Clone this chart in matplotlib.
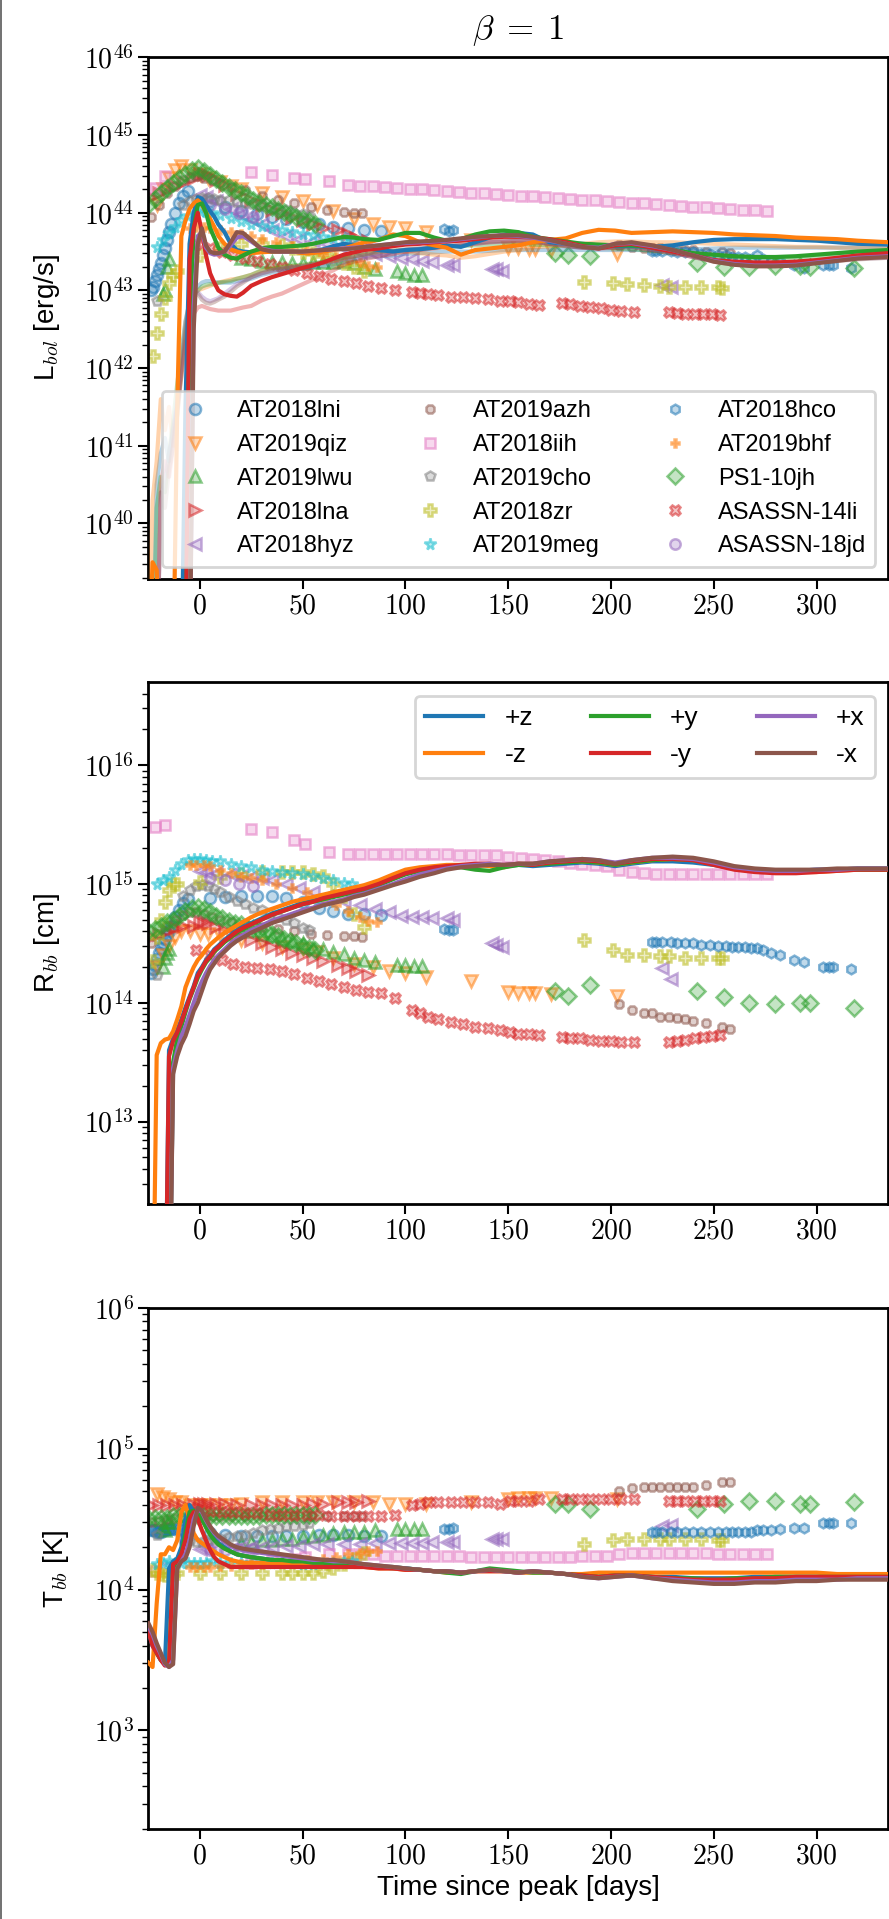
import numpy as np
import matplotlib
matplotlib.use("Agg")
import matplotlib.pyplot as plt
from matplotlib.colors import to_rgba
from matplotlib.lines import Line2D
from matplotlib.ticker import FuncFormatter, LogLocator, MultipleLocator, NullFormatter

plt.rcParams["font.family"] = ["Liberation Sans", "DejaVu Sans"]
plt.rcParams["mathtext.fontset"] = "cm"

# ---- observed TDEs: time since peak [d], log10 L [erg/s], log10 R [cm], log10 T [K]
lni_t = [-24, -23, -22, -21, -20, -19, -18, -17, -16, -15, -14, -12, -10, -8, -6, 5, 12, 20, 28, 35, 42, 50, 58, 65, 72, 80, 88]
lni_L = [43.0, 43.05, 43.12, 43.2, 43.28, 43.35, 43.45, 43.55, 43.65, 43.75, 43.85, 44.0, 44.12, 44.22, 44.28, 44.15, 44.08, 44.02, 43.98, 43.95, 43.92, 43.88, 43.85, 43.82, 43.8, 43.78, 43.76]
lni_R = [14.25, 14.28, 14.32, 14.37, 14.42, 14.46, 14.5, 14.54, 14.57, 14.6, 14.65, 14.72, 14.78, 14.84, 14.87, 14.88, 14.89, 14.9, 14.9, 14.9, 14.88, 14.85, 14.8, 14.77, 14.75, 14.75, 14.74]
lni_T = [4.42, 4.42, 4.42, 4.41, 4.41, 4.41, 4.42, 4.42, 4.43, 4.43, 4.43, 4.43, 4.43, 4.42, 4.42, 4.4, 4.39, 4.38, 4.38, 4.38, 4.38, 4.38, 4.39, 4.39, 4.39, 4.38, 4.38]

qiz_t = [-21, -18, -15, -12, -9, -5, 0, 4, 10, 15, 20, 30, 40, 50, 57, 65, 75, 84, 92, 100, 110, 132, 150, 155, 160, 163, 171, 203]
qiz_L = [44.1, 44.3, 44.45, 44.55, 44.6, 44.55, 44.5, 44.45, 44.4, 44.35, 44.3, 44.25, 44.2, 44.15, 44.1, 44.02, 43.92, 43.85, 43.82, 43.8, 43.75, 43.65, 43.55, 43.55, 43.53, 43.53, 43.52, 43.47]
qiz_R = [14.3, 14.4, 14.48, 14.55, 14.6, 14.6, 14.58, 14.58, 14.57, 14.55, 14.53, 14.5, 14.47, 14.45, 14.43, 14.38, 14.33, 14.3, 14.27, 14.25, 14.22, 14.18, 14.09, 14.08, 14.08, 14.08, 14.07, 14.06]
qiz_T = [4.68, 4.66, 4.64, 4.62, 4.62, 4.6, 4.6, 4.6, 4.6, 4.6, 4.61, 4.62, 4.62, 4.62, 4.62, 4.62, 4.62, 4.62, 4.61, 4.61, 4.61, 4.62, 4.64, 4.65, 4.65, 4.65, 4.65, 4.64]

lwu_t = [-18, -17, -16, -15, 20, 25, 30, 35, 40, 45, 50, 55, 60, 65, 70, 75, 80, 85, 96, 100, 104, 108]
lwu_L = [42.95, 43.0, 43.3, 43.4, 43.42, 43.4, 43.38, 43.37, 43.36, 43.35, 43.35, 43.36, 43.37, 43.37, 43.38, 43.35, 43.3, 43.28, 43.25, 43.22, 43.2, 43.2]
lwu_R = [14.3, 14.38, 14.42, 14.45, 14.62, 14.6, 14.58, 14.56, 14.54, 14.52, 14.5, 14.47, 14.45, 14.43, 14.41, 14.38, 14.36, 14.34, 14.32, 14.32, 14.31, 14.31]
lwu_T = [4.45, 4.42, 4.48, 4.48, 4.33, 4.34, 4.35, 4.35, 4.36, 4.36, 4.37, 4.38, 4.39, 4.4, 4.41, 4.41, 4.41, 4.42, 4.43, 4.43, 4.43, 4.43]

lna_t = [-24, -20, -16, -12, -8, -3, 0, 2, 4, 8, 12, 18, 25, 30, 35, 40, 45, 50, 55, 60, 67, 72, 76, 82]
lna_L = [44.2, 44.25, 44.3, 44.35, 44.4, 44.45, 44.5, 44.5, 44.48, 44.42, 44.36, 44.24, 44.16, 44.1, 44.04, 44.0, 43.94, 43.9, 43.86, 43.8, 43.78, 43.72, 43.68, 43.63]
lna_R = [14.55, 14.58, 14.6, 14.63, 14.65, 14.65, 14.68, 14.68, 14.67, 14.64, 14.61, 14.57, 14.53, 14.5, 14.47, 14.45, 14.42, 14.4, 14.38, 14.35, 14.32, 14.29, 14.27, 14.23]
lna_T = [4.6, 4.6, 4.6, 4.6, 4.6, 4.6, 4.61, 4.61, 4.61, 4.61, 4.61, 4.6, 4.6, 4.6, 4.6, 4.6, 4.6, 4.6, 4.61, 4.61, 4.62, 4.62, 4.62, 4.63]

hyz_t = [0, 3, 8, 15, 20, 25, 30, 35, 42, 48, 55, 62, 70, 78, 85, 92, 98, 103, 108, 113, 120, 123, 142, 144, 147, 225, 229]
hyz_L = [44.23, 44.2, 44.15, 44.05, 43.98, 43.92, 43.85, 43.78, 43.7, 43.66, 43.63, 43.6, 43.55, 43.5, 43.47, 43.44, 43.42, 43.4, 43.38, 43.36, 43.33, 43.33, 43.28, 43.27, 43.25, 43.07, 43.05]
hyz_R = [15.11, 15.1, 15.09, 15.08, 15.07, 15.06, 15.05, 15.03, 15.0, 14.97, 14.93, 14.9, 14.86, 14.82, 14.79, 14.76, 14.73, 14.72, 14.72, 14.71, 14.71, 14.7, 14.5, 14.49, 14.47, 14.29, 14.2]
hyz_T = [4.29, 4.29, 4.29, 4.29, 4.3, 4.3, 4.3, 4.3, 4.31, 4.31, 4.32, 4.32, 4.32, 4.32, 4.33, 4.33, 4.33, 4.33, 4.33, 4.34, 4.34, 4.34, 4.36, 4.36, 4.36, 4.45, 4.46]

azh_t = [-24, -20, -16, -12, -8, -5, -2, 2, 6, 10, 15, 22, 30, 38, 46, 54, 62, 70, 75, 79, 204, 210, 216, 220, 224, 228, 232, 236, 240, 246, 254, 258]
azh_L = [43.95, 44.1, 44.25, 44.35, 44.42, 44.46, 44.47, 44.45, 44.42, 44.38, 44.33, 44.29, 44.22, 44.16, 44.12, 44.08, 44.04, 44.01, 44.0, 44.0,
         43.58, 43.56, 43.55, 43.55, 43.54, 43.53, 43.53, 43.52, 43.52, 43.5, 43.49, 43.48]
azh_R = [14.5, 14.58, 14.65, 14.7, 14.74, 14.76, 14.76, 14.75, 14.72, 14.7, 14.68, 14.66, 14.64, 14.62, 14.6, 14.58, 14.57, 14.56, 14.56, 14.55,
         13.99, 13.94, 13.91, 13.91, 13.88, 13.88, 13.87, 13.86, 13.85, 13.83, 13.8, 13.78]
azh_T = [4.48, 4.49, 4.5, 4.51, 4.51, 4.52, 4.52, 4.52, 4.52, 4.52, 4.52, 4.52, 4.52, 4.52, 4.52, 4.52, 4.52, 4.52, 4.52, 4.52,
         4.70, 4.72, 4.73, 4.73, 4.73, 4.73, 4.73, 4.73, 4.73, 4.74, 4.76, 4.76]

iih_t = [-22, -17, 25, 35, 46, 51, 63, 72, 78, 84, 90, 96, 102, 108, 114, 120, 126, 132, 138, 144, 150,
         156, 162, 168, 174, 180, 186, 192, 198, 204, 210, 216, 222, 228, 234, 240, 246, 252, 258, 264, 270, 276]
iih_L = [44.32, 44.47, 44.52, 44.49, 44.45, 44.43, 44.41, 44.36, 44.35, 44.34, 44.33, 44.32, 44.31, 44.3, 44.29,
         44.28, 44.27, 44.26, 44.25, 44.24, 44.23, 44.22, 44.21, 44.2, 44.19, 44.18, 44.17, 44.16, 44.15, 44.14,
         44.13, 44.12, 44.11, 44.1, 44.09, 44.08, 44.07, 44.06, 44.05, 44.04, 44.03, 44.02]
iih_R = [15.48, 15.5, 15.46, 15.44, 15.37, 15.34, 15.27, 15.25, 15.25, 15.25, 15.25, 15.25, 15.25, 15.25, 15.25,
         15.25, 15.24, 15.24, 15.24, 15.24, 15.23, 15.22, 15.21, 15.2, 15.19, 15.18, 15.17, 15.16, 15.15, 15.12,
         15.1, 15.09, 15.08, 15.08, 15.08, 15.08, 15.08, 15.08, 15.08, 15.08, 15.08, 15.08]
iih_T = [4.13, 4.15, 4.19, 4.2, 4.22, 4.23, 4.25, 4.25, 4.25, 4.25, 4.24, 4.24, 4.24, 4.24, 4.24,
         4.24, 4.24, 4.23, 4.23, 4.23, 4.23, 4.23, 4.23, 4.23, 4.23, 4.23, 4.24, 4.24, 4.24, 4.25,
         4.26, 4.26, 4.26, 4.26, 4.26, 4.26, 4.26, 4.25, 4.25, 4.25, 4.25, 4.25]

cho_t = [-21, -8, -5, -2, 1, 4, 7, 10, 14, 18, 22, 26, 30, 34, 38, 42, 46, 50, 53]
cho_L = [42.87, 44.1, 44.15, 44.18, 44.19, 44.19, 44.18, 44.17, 44.16, 44.14, 44.13, 44.11, 44.09, 44.07, 44.05, 44.03, 44.0, 43.98, 43.96]
cho_R = [14.23, 14.9, 14.95, 14.98, 14.99, 14.98, 14.96, 14.93, 14.89, 14.86, 14.83, 14.8, 14.78, 14.75, 14.72, 14.7, 14.67, 14.63, 14.61]
cho_T = [4.39, 4.36, 4.35, 4.34, 4.34, 4.35, 4.35, 4.36, 4.37, 4.38, 4.39, 4.4, 4.42, 4.43, 4.44, 4.45, 4.45, 4.46, 4.47]

zr_t = [-23, -21, -19, -17, -15, -13, -11, 0, 10, 20, 30, 40, 45, 50, 55, 60, 65, 70, 75, 80,
        187, 201, 208, 216, 224, 228, 236, 244, 252, 254]
zr_L = [42.16, 42.45, 42.7, 42.9, 43.1, 43.2, 43.25, 43.45, 43.55, 43.6, 43.6, 43.58, 43.55, 43.5, 43.48, 43.45, 43.4, 43.35, 43.3, 43.25,
        43.11, 43.1, 43.08, 43.07, 43.06, 43.05, 43.05, 43.04, 43.04, 43.03]
zr_R = [14.35, 14.55, 14.7, 14.85, 14.95, 15.0, 15.0, 15.02, 15.06, 15.08, 15.1, 15.1, 15.1, 15.1, 15.08, 15.07, 15.0, 14.9, 14.75, 14.64,
        14.53, 14.44, 14.4, 14.4, 14.39, 14.39, 14.38, 14.38, 14.38, 14.38]
zr_T = [4.14, 4.12, 4.11, 4.1, 4.1, 4.11, 4.12, 4.12, 4.12, 4.12, 4.12, 4.12, 4.12, 4.12, 4.12, 4.13, 4.15, 4.18, 4.22, 4.26,
        4.32, 4.35, 4.36, 4.36, 4.36, 4.36, 4.36, 4.36, 4.35, 4.35]

meg_t = [-21, -18, -15, -12, -9, -6, -3, 0, 3, 6, 10, 15, 20, 25, 30, 35, 40, 45, 50, 55, 60, 65, 70, 74]
meg_L = [43.56, 43.65, 43.74, 43.82, 43.9, 43.96, 44.0, 44.02, 44.01, 44.0, 43.97, 43.93, 43.89, 43.86, 43.83, 43.8, 43.78, 43.75, 43.73, 43.71, 43.69, 43.67, 43.65, 43.63]
meg_R = [15.0, 15.03, 15.06, 15.12, 15.17, 15.2, 15.21, 15.21, 15.2, 15.19, 15.19, 15.17, 15.15, 15.14, 15.12, 15.11, 15.1, 15.09, 15.08, 15.07, 15.05, 15.03, 15.01, 15.0]
meg_T = [4.18, 4.19, 4.2, 4.19, 4.19, 4.19, 4.19, 4.19, 4.19, 4.2, 4.19, 4.19, 4.19, 4.19, 4.19, 4.19, 4.19, 4.19, 4.18, 4.18, 4.19, 4.19, 4.2, 4.2]

hco_t = [119, 121, 123, 220, 222, 225, 229, 232, 236, 240, 244, 248, 252, 256, 259, 262, 265, 268, 271, 274, 278, 282, 289, 294, 303, 306, 308, 317]
hco_L = [43.79, 43.77, 43.78, 43.51, 43.51, 43.51, 43.51, 43.49, 43.49, 43.49, 43.47, 43.47, 43.45, 43.45, 43.43, 43.43, 43.43, 43.41, 43.45, 43.41, 43.37, 43.37, 43.33, 43.29, 43.33, 43.33, 43.33, 43.29]
hco_R = [14.62, 14.61, 14.61, 14.51, 14.51, 14.51, 14.51, 14.5, 14.5, 14.5, 14.49, 14.49, 14.48, 14.48, 14.47, 14.47, 14.47, 14.46, 14.46, 14.44, 14.42, 14.4, 14.36, 14.34, 14.3, 14.3, 14.3, 14.28]
hco_T = [4.43, 4.43, 4.44, 4.41, 4.41, 4.41, 4.41, 4.41, 4.41, 4.41, 4.41, 4.41, 4.41, 4.41, 4.41, 4.41, 4.41, 4.41, 4.42, 4.42, 4.42, 4.43, 4.44, 4.44, 4.47, 4.47, 4.47, 4.47]

bhf_t = [-5, -2, 2, 5, 10, 15, 20, 25, 30, 37, 45, 52, 60, 66, 72, 78, 82, 86]
bhf_L = [43.8, 43.82, 43.82, 43.8, 43.78, 43.75, 43.72, 43.7, 43.66, 43.62, 43.57, 43.52, 43.47, 43.43, 43.4, 43.36, 43.32, 43.3]
bhf_R = [15.16, 15.16, 15.16, 15.15, 15.12, 15.09, 15.06, 15.05, 15.03, 15.0, 14.97, 14.93, 14.87, 14.82, 14.77, 14.72, 14.69, 14.68]
bhf_T = [4.16, 4.16, 4.16, 4.16, 4.17, 4.17, 4.18, 4.18, 4.18, 4.19, 4.2, 4.21, 4.22, 4.23, 4.25, 4.26, 4.27, 4.27]

ps1_t = [-25, -22, -19, -16, -13, -10, -7, -4, -1, 2, 5, 8, 11, 14, 17, 20, 23, 26, 29, 32, 35, 38, 41, 44, 47, 50, 53, 56,
         173, 179, 190, 242, 255, 267, 280, 292, 297, 318]
ps1_L = [44.1, 44.18, 44.25, 44.32, 44.38, 44.45, 44.5, 44.55, 44.57, 44.54, 44.48, 44.43, 44.38, 44.33, 44.29, 44.25, 44.21, 44.17, 44.13, 44.1,
         44.07, 44.04, 44.01, 43.98, 43.95, 43.92, 43.89, 43.86,
         43.48, 43.46, 43.44, 43.35, 43.3, 43.3, 43.31, 43.31, 43.3, 43.29]
ps1_R = [14.6, 14.62, 14.65, 14.68, 14.7, 14.73, 14.77, 14.8, 14.81, 14.79, 14.76, 14.73, 14.71, 14.69, 14.67, 14.66, 14.64, 14.63, 14.61, 14.6,
         14.58, 14.56, 14.54, 14.52, 14.5, 14.48, 14.46, 14.44,
         14.1, 14.06, 14.15, 14.1, 14.05, 14.0, 13.99, 14.0, 14.0, 13.96]
ps1_T = [4.51, 4.51, 4.51, 4.51, 4.52, 4.52, 4.52, 4.52, 4.52, 4.52, 4.52, 4.52, 4.52, 4.52, 4.52, 4.52, 4.52, 4.52, 4.52, 4.53,
         4.53, 4.53, 4.53, 4.53, 4.53, 4.53, 4.53, 4.53,
         4.61, 4.61, 4.57, 4.57, 4.61, 4.63, 4.63, 4.61, 4.61, 4.62]

li_t = [-2, 5, 11, 16, 22, 28, 34, 40, 46, 52, 58, 64, 70, 76, 82, 88, 95, 103, 107, 111, 116, 122, 128, 134, 140,
        146, 151, 155, 160, 165, 176, 180, 185, 190, 195, 200, 205, 211, 228, 232, 236, 241, 245, 249, 253]
li_L = [43.6, 43.55, 43.5, 43.46, 43.42, 43.38, 43.34, 43.3, 43.26, 43.22, 43.19, 43.15, 43.12, 43.09, 43.06,
        43.03, 43.0, 42.98, 42.97, 42.95, 42.94, 42.92, 42.91, 42.9, 42.89, 42.87, 42.87, 42.85, 42.83, 42.81,
        42.84, 42.82, 42.8, 42.78, 42.77, 42.75, 42.74, 42.72, 42.72, 42.71, 42.7, 42.7, 42.69, 42.69, 42.68]
li_R = [14.44, 14.4, 14.36, 14.33, 14.3, 14.29, 14.28, 14.27, 14.24, 14.21, 14.18, 14.16, 14.13, 14.11, 14.09,
        14.08, 14.04, 13.94, 13.91, 13.88, 13.86, 13.84, 13.82, 13.8, 13.79, 13.77, 13.75, 13.74, 13.74, 13.73,
        13.71, 13.7, 13.7, 13.69, 13.68, 13.68, 13.67, 13.67, 13.67, 13.68, 13.69, 13.7, 13.71, 13.72, 13.73]
li_T = [4.58, 4.56, 4.55, 4.55, 4.54, 4.54, 4.53, 4.53, 4.53, 4.53, 4.53, 4.52, 4.52, 4.52, 4.52,
        4.52, 4.53, 4.6, 4.61, 4.62, 4.62, 4.62, 4.62, 4.62, 4.62, 4.61, 4.63, 4.63, 4.63, 4.64,
        4.64, 4.64, 4.64, 4.64, 4.64, 4.64, 4.64, 4.64, 4.63, 4.63, 4.63, 4.63, 4.63, 4.63, 4.63]

jd_t = [5, 12, 19, 26]
jd_L = [44.1, 44.05, 44.0, 43.95]
jd_R = [15.05, 15.03, 15.0, 14.98]
jd_T = [4.28, 4.28, 4.29, 4.29]

# ---- simulated viewing directions (log10 values; values far below the axes are off-scale)
sim_t = [-25, -23, -21, -19, -17, -15, -13, -11,
         -9, -7, -5, -3, -1, 1, 3, 5,
         7, 9, 12, 15, 18, 21, 25, 30,
         35, 40, 45, 50, 55, 60, 65, 70,
         75, 80, 87, 94, 100, 107, 114, 120,
         127, 134, 141, 148, 155, 162, 170, 178,
         186, 194, 202, 210, 220, 230, 240, 250,
         260, 270, 280, 290, 300, 310, 320, 335]
sim_labels = ["+z", "-z", "+y", "-y", "+x", "-x"]

L_pz = [38, 38, 38, 38, 38, 38, 38, 38,
        38, 41.5, 43.6, 44.0, 44.2, 44.18, 44.1, 44.02,
        43.95, 43.85, 43.75, 43.6, 43.52, 43.5, 43.49, 43.5,
        43.5, 43.5, 43.5, 43.49, 43.5, 43.53, 43.57, 43.6,
        43.58, 43.55, 43.52, 43.5, 43.52, 43.53, 43.55, 43.58,
        43.56, 43.62, 43.68, 43.72, 43.74, 43.72, 43.62, 43.6,
        43.6, 43.58, 43.57, 43.57, 43.56, 43.58, 43.62, 43.65,
        43.66, 43.66, 43.66, 43.65, 43.64, 43.62, 43.6, 43.59]
L_mz = [38, 39.5, 39.4, 38, 38, 38, 38, 41.5,
        43.7, 43.9, 44.05, 44.12, 44.16, 44.1, 44.0, 43.92,
        43.82, 43.7, 43.6, 43.53, 43.5, 43.48, 43.48, 43.49,
        43.5, 43.5, 43.5, 43.48, 43.48, 43.5, 43.52, 43.54,
        43.58, 43.62, 43.65, 43.72, 43.7, 43.62, 43.58, 43.55,
        43.46, 43.52, 43.54, 43.56, 43.58, 43.62, 43.65, 43.67,
        43.74, 43.78, 43.77, 43.74, 43.75, 43.76, 43.75, 43.74,
        43.72, 43.71, 43.7, 43.68, 43.67, 43.66, 43.64, 43.62]
L_py = [38, 38, 38, 38, 38, 38, 38, 38,
        38, 38, 42.5, 43.8, 44.1, 44.12, 44.0, 43.8,
        43.68, 43.55, 43.46, 43.42, 43.41, 43.45, 43.5, 43.54,
        43.56, 43.56, 43.57, 43.58, 43.6, 43.63, 43.66, 43.69,
        43.68, 43.66, 43.65, 43.7, 43.74, 43.74, 43.68, 43.64,
        43.66, 43.72, 43.76, 43.77, 43.75, 43.69, 43.66, 43.63,
        43.6, 43.59, 43.58, 43.58, 43.56, 43.52, 43.48, 43.46,
        43.44, 43.43, 43.43, 43.44, 43.46, 43.48, 43.5, 43.52]
L_my = [38, 38, 38, 38, 38, 38, 38, 38,
        38, 38, 43.4, 43.8, 44.0, 43.75, 43.45, 43.22,
        43.1, 43.0, 42.95, 42.93, 42.92, 42.97, 43.06, 43.12,
        43.17, 43.21, 43.25, 43.29, 43.32, 43.36, 43.41, 43.46,
        43.49, 43.52, 43.54, 43.57, 43.59, 43.6, 43.62, 43.63,
        43.64, 43.66, 43.68, 43.69, 43.69, 43.68, 43.66, 43.62,
        43.57, 43.54, 43.58, 43.6, 43.55, 43.5, 43.45, 43.39,
        43.37, 43.36, 43.36, 43.37, 43.39, 43.42, 43.45, 43.48]
L_px = [38, 38, 38, 38, 38, 38, 38, 38,
        38, 38, 38, 42.8, 43.7, 43.75, 43.55, 43.48,
        43.46, 43.47, 43.5, 43.58, 43.68, 43.7, 43.63, 43.54,
        43.51, 43.5, 43.5, 43.5, 43.51, 43.52, 43.53, 43.54,
        43.55, 43.56, 43.58, 43.6, 43.61, 43.62, 43.63, 43.64,
        43.66, 43.68, 43.7, 43.71, 43.7, 43.68, 43.64, 43.6,
        43.56, 43.55, 43.6, 43.61, 43.57, 43.52, 43.45, 43.38,
        43.34, 43.32, 43.32, 43.33, 43.36, 43.39, 43.42, 43.44]
L_mx = [38, 38, 38, 38, 38, 38, 38, 38,
        38, 38, 38, 42.5, 43.6, 43.8, 43.58, 43.5,
        43.48, 43.48, 43.5, 43.62, 43.75, 43.74, 43.65, 43.53,
        43.5, 43.5, 43.5, 43.5, 43.51, 43.52, 43.53, 43.53,
        43.54, 43.56, 43.58, 43.6, 43.62, 43.63, 43.64, 43.65,
        43.67, 43.69, 43.7, 43.71, 43.71, 43.69, 43.65, 43.6,
        43.56, 43.54, 43.6, 43.62, 43.58, 43.52, 43.45, 43.37,
        43.33, 43.31, 43.31, 43.32, 43.35, 43.38, 43.41, 43.43]

# fainter companion curves in the luminosity panel
F_pz = [38, 38, 40.5, 40.9, 41.1, 40.8, 41.2, 41.5,
        42.0, 42.5, 42.85, 43.0, 43.05, 43.1, 43.12, 43.12,
        43.11, 43.1, 43.1, 43.1, 43.12, 43.13, 43.15, 43.2,
        43.23, 43.25, 43.27, 43.28, 43.3, 43.32, 43.33, 43.36,
        43.4, 43.42, 43.44, 43.45, 43.47, 43.48, 43.49, 43.5,
        43.5, 43.5, 43.51, 43.52, 43.52, 43.52, 43.52, 43.52,
        43.52, 43.52, 43.52, 43.52, 43.52, 43.53, 43.53, 43.54,
        43.55, 43.55, 43.55, 43.55, 43.55, 43.55, 43.55, 43.55]
F_mz = [38, 40.3, 40.8, 41.6, 41.2, 41.5, 41.0, 41.4,
        42.0, 42.5, 42.9, 43.0, 43.0, 43.02, 43.04, 43.06,
        43.08, 43.1, 43.12, 43.14, 43.15, 43.17, 43.2, 43.25,
        43.28, 43.3, 43.31, 43.32, 43.34, 43.36, 43.38, 43.42,
        43.44, 43.46, 43.5, 43.5, 43.5, 43.48, 43.46, 43.45,
        43.42, 43.44, 43.47, 43.5, 43.52, 43.55, 43.57, 43.58,
        43.6, 43.62, 43.63, 43.63, 43.62, 43.62, 43.61, 43.6,
        43.59, 43.58, 43.57, 43.56, 43.56, 43.55, 43.55, 43.54]
F_py = [38, 38, 40.2, 40.6, 40.4, 40.9, 41.3, 41.8,
        42.2, 42.6, 42.85, 42.95, 43.0, 43.05, 43.07, 43.08,
        43.08, 43.1, 43.11, 43.12, 43.15, 43.17, 43.2, 43.26,
        43.28, 43.3, 43.32, 43.33, 43.35, 43.37, 43.4, 43.42,
        43.44, 43.47, 43.5, 43.51, 43.52, 43.53, 43.55, 43.56,
        43.57, 43.58, 43.59, 43.6, 43.6, 43.59, 43.58, 43.57,
        43.56, 43.55, 43.54, 43.53, 43.51, 43.48, 43.46, 43.44,
        43.43, 43.42, 43.42, 43.42, 43.43, 43.44, 43.46, 43.48]
F_my = [38, 38, 38, 40.5, 40.8, 40.6, 41.0, 41.5,
        41.9, 42.3, 42.55, 42.7, 42.78, 42.8, 42.78, 42.76,
        42.75, 42.74, 42.74, 42.74, 42.76, 42.78, 42.8, 42.87,
        42.92, 42.96, 43.02, 43.08, 43.14, 43.2, 43.26, 43.33,
        43.37, 43.4, 43.44, 43.47, 43.5, 43.52, 43.54, 43.56,
        43.58, 43.6, 43.62, 43.63, 43.64, 43.63, 43.6, 43.58,
        43.55, 43.54, 43.55, 43.56, 43.52, 43.48, 43.43, 43.38,
        43.36, 43.35, 43.35, 43.36, 43.38, 43.4, 43.43, 43.45]
F_px = [38, 38, 38, 40.3, 40.6, 40.9, 41.2, 41.6,
        42.1, 42.6, 42.85, 42.95, 42.98, 42.92, 42.88, 42.86,
        42.88, 42.9, 42.96, 43.02, 43.08, 43.12, 43.17, 43.22,
        43.26, 43.28, 43.3, 43.31, 43.33, 43.35, 43.37, 43.4,
        43.42, 43.44, 43.47, 43.5, 43.52, 43.54, 43.55, 43.57,
        43.58, 43.6, 43.62, 43.63, 43.64, 43.63, 43.6, 43.57,
        43.55, 43.54, 43.56, 43.57, 43.53, 43.49, 43.43, 43.38,
        43.35, 43.34, 43.34, 43.35, 43.37, 43.39, 43.41, 43.42]
F_mx = [38, 38, 38, 40.4, 40.2, 40.7, 41.0, 41.4,
        41.9, 42.4, 42.8, 42.92, 42.96, 42.88, 42.84, 42.83,
        42.85, 42.88, 42.92, 42.98, 43.05, 43.1, 43.17, 43.22,
        43.25, 43.28, 43.3, 43.31, 43.34, 43.36, 43.38, 43.42,
        43.44, 43.46, 43.49, 43.51, 43.53, 43.54, 43.55, 43.57,
        43.59, 43.61, 43.63, 43.64, 43.65, 43.63, 43.6, 43.57,
        43.55, 43.55, 43.57, 43.58, 43.54, 43.49, 43.43, 43.37,
        43.33, 43.32, 43.32, 43.33, 43.36, 43.38, 43.4, 43.42]

R_pz = [11, 11, 11, 11, 11, 13.6, 13.7, 13.77,
        13.86, 13.96, 14.05, 14.14, 14.25, 14.3, 14.36, 14.4,
        14.45, 14.48, 14.53, 14.57, 14.61, 14.64, 14.67, 14.71,
        14.75, 14.78, 14.81, 14.84, 14.86, 14.88, 14.9, 14.92,
        14.94, 14.96, 15.0, 15.05, 15.09, 15.12, 15.13, 15.14,
        15.15, 15.16, 15.16, 15.15, 15.16, 15.15, 15.16, 15.17,
        15.18, 15.17, 15.15, 15.17, 15.19, 15.19, 15.18, 15.16,
        15.13, 15.11, 15.11, 15.11, 15.12, 15.12, 15.13, 15.13]
R_mz = [11, 11, 13.56, 13.66, 13.69, 13.7, 13.76, 13.86,
        13.97, 14.13, 14.22, 14.3, 14.36, 14.4, 14.45, 14.49,
        14.52, 14.55, 14.59, 14.62, 14.65, 14.68, 14.72, 14.76,
        14.79, 14.82, 14.85, 14.87, 14.89, 14.91, 14.93, 14.95,
        14.97, 14.99, 15.03, 15.08, 15.12, 15.14, 15.15, 15.16,
        15.16, 15.16, 15.15, 15.14, 15.17, 15.17, 15.18, 15.19,
        15.19, 15.18, 15.16, 15.18, 15.2, 15.21, 15.2, 15.17,
        15.13, 15.11, 15.1, 15.1, 15.1, 15.11, 15.12, 15.12]
R_py = [11, 11, 11, 11, 11, 11, 13.5, 13.7,
        13.8, 13.92, 14.03, 14.12, 14.21, 14.28, 14.34, 14.38,
        14.43, 14.46, 14.51, 14.55, 14.59, 14.62, 14.66, 14.7,
        14.74, 14.77, 14.8, 14.83, 14.85, 14.87, 14.89, 14.91,
        14.93, 14.95, 14.99, 15.04, 15.08, 15.11, 15.13, 15.14,
        15.14, 15.12, 15.11, 15.14, 15.16, 15.16, 15.17, 15.18,
        15.19, 15.18, 15.16, 15.18, 15.2, 15.21, 15.2, 15.17,
        15.13, 15.11, 15.11, 15.11, 15.11, 15.12, 15.12, 15.12]
R_my = [11, 11, 11, 11, 11, 13.55, 13.68, 13.75,
        13.84, 13.94, 14.04, 14.13, 14.23, 14.29, 14.35, 14.39,
        14.44, 14.47, 14.52, 14.56, 14.6, 14.63, 14.66, 14.7,
        14.74, 14.77, 14.8, 14.83, 14.85, 14.88, 14.9, 14.92,
        14.94, 14.96, 15.0, 15.05, 15.09, 15.12, 15.14, 15.15,
        15.16, 15.17, 15.17, 15.16, 15.17, 15.16, 15.18, 15.19,
        15.2, 15.19, 15.17, 15.19, 15.21, 15.21, 15.2, 15.16,
        15.12, 15.1, 15.09, 15.09, 15.1, 15.11, 15.12, 15.12]
R_px = [11, 11, 11, 11, 11, 11, 13.45, 13.6,
        13.72, 13.8, 13.9, 14.0, 14.1, 14.18, 14.25, 14.31,
        14.36, 14.4, 14.45, 14.5, 14.54, 14.57, 14.61, 14.65,
        14.69, 14.72, 14.75, 14.78, 14.8, 14.83, 14.85, 14.87,
        14.9, 14.92, 14.96, 15.0, 15.04, 15.08, 15.11, 15.13,
        15.15, 15.16, 15.17, 15.16, 15.17, 15.17, 15.19, 15.2,
        15.21, 15.2, 15.18, 15.2, 15.22, 15.22, 15.21, 15.18,
        15.14, 15.12, 15.11, 15.11, 15.12, 15.12, 15.13, 15.13]
R_mx = [11, 11, 11, 11, 11, 11, 13.4, 13.55,
        13.65, 13.72, 13.82, 13.93, 14.0, 14.1, 14.2, 14.28,
        14.33, 14.38, 14.43, 14.48, 14.52, 14.55, 14.59, 14.63,
        14.67, 14.7, 14.73, 14.76, 14.79, 14.82, 14.84, 14.86,
        14.89, 14.91, 14.95, 14.99, 15.02, 15.06, 15.09, 15.12,
        15.14, 15.15, 15.16, 15.16, 15.17, 15.17, 15.19, 15.2,
        15.21, 15.2, 15.17, 15.2, 15.22, 15.23, 15.22, 15.19,
        15.15, 15.13, 15.12, 15.12, 15.12, 15.13, 15.13, 15.13]

T_pz = [3.7, 3.6, 3.55, 3.5, 3.47, 4.15, 4.2, 4.22,
        4.3, 4.5, 4.6, 4.55, 4.52, 4.5, 4.45, 4.4,
        4.36, 4.33, 4.3, 4.27, 4.25, 4.24, 4.23, 4.22,
        4.21, 4.2, 4.2, 4.19, 4.19, 4.18, 4.18, 4.17,
        4.17, 4.16, 4.16, 4.15, 4.15, 4.14, 4.13, 4.13,
        4.12, 4.13, 4.14, 4.13, 4.12, 4.13, 4.12, 4.11,
        4.1, 4.09, 4.1, 4.1, 4.09, 4.09, 4.08, 4.08,
        4.08, 4.09, 4.09, 4.09, 4.09, 4.09, 4.09, 4.09]
T_mz = [3.48, 3.45, 3.9, 4.25, 4.25, 4.3, 4.28, 4.35,
        4.55, 4.6, 4.5, 4.4, 4.35, 4.33, 4.31, 4.29,
        4.27, 4.25, 4.23, 4.21, 4.2, 4.19, 4.19, 4.19,
        4.18, 4.18, 4.18, 4.18, 4.17, 4.17, 4.17, 4.17,
        4.16, 4.16, 4.15, 4.15, 4.14, 4.14, 4.13, 4.12,
        4.12, 4.13, 4.13, 4.13, 4.12, 4.12, 4.12, 4.11,
        4.11, 4.12, 4.12, 4.12, 4.12, 4.12, 4.12, 4.12,
        4.12, 4.12, 4.12, 4.12, 4.12, 4.11, 4.11, 4.11]
T_py = [3.72, 3.62, 3.55, 3.5, 3.47, 3.46, 4.15, 4.2,
        4.25, 4.4, 4.55, 4.56, 4.55, 4.5, 4.44, 4.39,
        4.35, 4.32, 4.29, 4.27, 4.25, 4.24, 4.23, 4.22,
        4.21, 4.21, 4.2, 4.2, 4.19, 4.19, 4.18, 4.18,
        4.18, 4.17, 4.16, 4.16, 4.15, 4.14, 4.13, 4.12,
        4.11, 4.13, 4.15, 4.14, 4.13, 4.12, 4.12, 4.11,
        4.1, 4.09, 4.1, 4.1, 4.09, 4.08, 4.08, 4.07,
        4.08, 4.08, 4.09, 4.09, 4.09, 4.09, 4.09, 4.09]
T_my = [3.7, 3.6, 3.55, 3.5, 3.46, 3.47, 4.18, 4.2,
        4.25, 4.35, 4.5, 4.55, 4.5, 4.42, 4.35, 4.28,
        4.23, 4.2, 4.18, 4.16, 4.16, 4.16, 4.16, 4.16,
        4.16, 4.16, 4.16, 4.16, 4.16, 4.16, 4.16, 4.16,
        4.16, 4.16, 4.15, 4.15, 4.14, 4.14, 4.13, 4.13,
        4.12, 4.13, 4.13, 4.13, 4.12, 4.13, 4.12, 4.11,
        4.1, 4.09, 4.1, 4.1, 4.09, 4.08, 4.07, 4.07,
        4.07, 4.08, 4.08, 4.09, 4.09, 4.09, 4.09, 4.09]
T_px = [3.74, 3.68, 3.6, 3.54, 3.47, 3.45, 3.5, 4.15,
        4.2, 4.25, 4.35, 4.5, 4.57, 4.55, 4.49, 4.44,
        4.4, 4.37, 4.34, 4.31, 4.29, 4.28, 4.27, 4.26,
        4.25, 4.24, 4.23, 4.22, 4.21, 4.21, 4.2, 4.2,
        4.19, 4.18, 4.17, 4.16, 4.15, 4.14, 4.13, 4.13,
        4.12, 4.13, 4.14, 4.13, 4.12, 4.13, 4.12, 4.11,
        4.09, 4.08, 4.09, 4.1, 4.08, 4.07, 4.06, 4.05,
        4.05, 4.06, 4.06, 4.07, 4.07, 4.07, 4.08, 4.08]
T_mx = [3.76, 3.7, 3.62, 3.55, 3.48, 3.45, 3.47, 4.15,
        4.2, 4.22, 4.3, 4.45, 4.58, 4.56, 4.5, 4.45,
        4.41, 4.38, 4.35, 4.32, 4.3, 4.29, 4.28, 4.27,
        4.26, 4.25, 4.24, 4.23, 4.22, 4.21, 4.21, 4.2,
        4.19, 4.18, 4.17, 4.16, 4.15, 4.14, 4.13, 4.13,
        4.12, 4.13, 4.14, 4.13, 4.12, 4.13, 4.12, 4.11,
        4.09, 4.08, 4.09, 4.1, 4.08, 4.06, 4.05, 4.04,
        4.04, 4.05, 4.05, 4.06, 4.06, 4.07, 4.07, 4.07]

tdes = [
    ("AT2018lni", lni_t, lni_L, lni_R, lni_T, "o", "C0", 8),
    ("AT2019qiz", qiz_t, qiz_L, qiz_R, qiz_T, "v", "C1", 8.5),
    ("AT2019lwu", lwu_t, lwu_L, lwu_R, lwu_T, "^", "C2", 8.5),
    ("AT2018lna", lna_t, lna_L, lna_R, lna_T, ">", "C3", 8.5),
    ("AT2018hyz", hyz_t, hyz_L, hyz_R, hyz_T, "<", "C4", 8.5),
    ("AT2019azh", azh_t, azh_L, azh_R, azh_T, "8", "C5", 7),
    ("AT2018iih", iih_t, iih_L, iih_R, iih_T, "s", "C6", 7),
    ("AT2019cho", cho_t, cho_L, cho_R, cho_T, "p", "C7", 7),
    ("AT2018zr", zr_t, zr_L, zr_R, zr_T, "P", "C8", 8),
    ("AT2019meg", meg_t, meg_L, meg_R, meg_T, "*", "C9", 8.5),
    ("AT2018hco", hco_t, hco_L, hco_R, hco_T, "h", "C0", 7),
    ("AT2019bhf", bhf_t, bhf_L, bhf_R, bhf_T, "P", "C1", 6),
    ("PS1-10jh", ps1_t, ps1_L, ps1_R, ps1_T, "D", "C2", 8),
    ("ASASSN-14li", li_t, li_L, li_R, li_T, "X", "C3", 7.5),
    ("ASASSN-18jd", jd_t, jd_L, jd_R, jd_T, "o", "C4", 7.5),
]

sim_L = [L_pz, L_mz, L_py, L_my, L_px, L_mx]
sim_F = [F_pz, F_mz, F_py, F_my, F_px, F_mx]
sim_R = [R_pz, R_mz, R_py, R_my, R_px, R_mx]
sim_T = [T_pz, T_mz, T_py, T_my, T_px, T_mx]
sim_colors = ["C0", "C1", "C2", "C3", "C4", "C5"]


def style_axis(ax, ylo, yhi):
    ax.set_yscale("log")
    ax.set_xlim(-25, 335)
    ax.set_ylim(10 ** ylo, 10 ** yhi)
    ax.xaxis.set_major_locator(MultipleLocator(50))
    ax.xaxis.set_major_formatter(FuncFormatter(lambda v, p: r"$%d$" % int(round(v))))
    ax.yaxis.set_major_locator(LogLocator(base=10, numticks=20))
    ax.yaxis.set_minor_locator(LogLocator(base=10, subs=np.arange(2, 10), numticks=100))
    ax.yaxis.set_major_formatter(FuncFormatter(lambda v, p: r"$10^{%d}$" % int(round(np.log10(v)))))
    ax.yaxis.set_minor_formatter(NullFormatter())
    ax.tick_params(which="major", length=7, width=1.5, labelsize=20)
    ax.tick_params(which="minor", length=4, width=1.0)
    for s in ax.spines.values():
        s.set_linewidth(2)


fig = plt.figure(figsize=(8.89, 19.19), dpi=100)
left, width, height = 0.167, 0.8324, 0.2716
axes = [fig.add_axes([left, b, width, height]) for b in (0.6985, 0.3728, 0.0469)]

for k, ax in enumerate(axes):
    for name, t, L, R, T, m, c, ms in tdes:
        vals = (L, R, T)[k]
        ax.plot(t, 10 ** np.asarray(vals), ls="none", marker=m, ms=ms, mew=1.8,
                mfc=to_rgba(c, 0.28), mec=to_rgba(c, 0.55), label=name, zorder=2)

t = np.asarray(sim_t)
for vals, c in zip(sim_F, sim_colors):
    axes[0].plot(t, 10 ** np.asarray(vals), color=c, lw=3, alpha=0.35, zorder=3)
for vals, c in zip(sim_L, sim_colors):
    axes[0].plot(t, 10 ** np.asarray(vals), color=c, lw=3, zorder=4)
sim_handles = []
for vals, c, lab in zip(sim_R, sim_colors, sim_labels):
    h, = axes[1].plot(t, 10 ** np.asarray(vals), color=c, lw=3, zorder=4, label=lab)
    sim_handles.append(h)
for vals, c in zip(sim_T, sim_colors):
    axes[2].plot(t, 10 ** np.asarray(vals), color=c, lw=3, zorder=4)

style_axis(axes[0], 39.29, 46.0)
style_axis(axes[1], 12.31, 16.696)
style_axis(axes[2], 2.30, 6.0)

axes[0].set_ylabel(r"L$_{bol}$ [erg/s]", fontsize=20, labelpad=16)
axes[1].set_ylabel(r"R$_{bb}$ [cm]", fontsize=20, labelpad=16)
axes[2].set_ylabel(r"T$_{bb}$ [K]", fontsize=20, labelpad=16)
axes[2].set_xlabel("Time since peak [days]", fontsize=20)

leg1 = axes[0].legend(ncol=3, loc="lower center", fontsize=17, columnspacing=2.2,
                      framealpha=0.8, edgecolor="0.8")
leg1.get_frame().set_linewidth(2)
leg2 = axes[1].legend(handles=sim_handles, ncol=3, loc="upper right", fontsize=19,
                      handlelength=2.2, columnspacing=2.2, framealpha=0.8, edgecolor="0.8")
leg2.get_frame().set_linewidth(2)

fig.text(0.5833, 1 - 31 / 1919, r"$\beta\;=\;1$", ha="center", va="center", fontsize=25)
fig.add_artist(Line2D([0.0015, 0.0015], [0, 1], transform=fig.transFigure, color="0.35", lw=1.2))

fig.savefig("out.png", dpi=100)
